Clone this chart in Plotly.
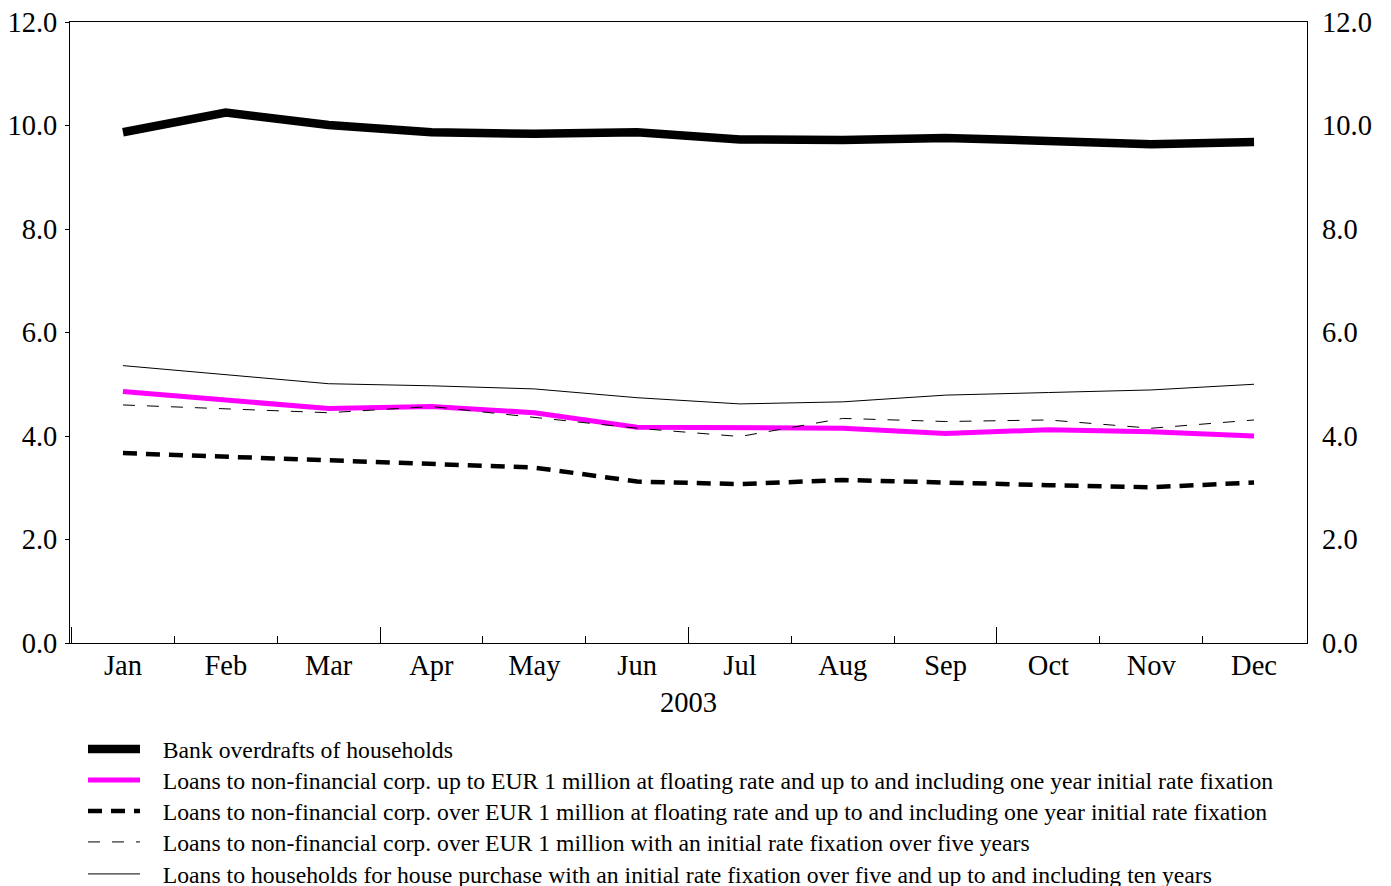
import plotly.graph_objects as go

months = ["Jan", "Feb", "Mar", "Apr", "May", "Jun", "Jul", "Aug", "Sep", "Oct", "Nov", "Dec"]
month_idx = list(range(len(months)))
year_label = "2003"

overdrafts = [9.87, 10.25, 10.01, 9.87, 9.84, 9.87, 9.73, 9.72, 9.76, 9.72, 9.64, 9.68]
nfc_small_float = [4.86, 4.70, 4.53, 4.57, 4.45, 4.17, 4.15, 4.15, 4.05, 4.12, 4.08, 4.00]
nfc_large_float = [3.67, 3.60, 3.54, 3.47, 3.39, 3.12, 3.07, 3.15, 3.09, 3.05, 3.01, 3.10]
nfc_large_5y = [4.60, 4.53, 4.45, 4.57, 4.36, 4.15, 3.99, 4.34, 4.28, 4.31, 4.15, 4.31]
house_5_10y = [5.36, 5.18, 5.01, 4.97, 4.91, 4.74, 4.62, 4.66, 4.79, 4.84, 4.89, 5.00]

names = [
    "Bank overdrafts of households",
    "Loans to non-financial corp. up to EUR 1 million at floating rate and up to and including one year initial rate fixation",
    "Loans to non-financial corp. over EUR 1 million at floating rate and up to and including one year initial rate fixation",
    "Loans to non-financial corp. over EUR 1 million with an initial rate fixation over five years",
    "Loans to households for house purchase with an initial rate fixation over five and up to and including ten years",
]

y_ticks = [0, 2, 4, 6, 8, 10, 12]
minor_boundaries = [0.5, 1.5, 2.5, 3.5, 4.5, 5.5, 6.5, 7.5, 8.5, 9.5, 10.5]
major_boundaries = [-0.5, 2.5, 5.5, 8.5]

FONT = "Liberation Serif"
XR = [-0.515, 11.515]
PAD = "\u00a0\u00a0\u00a0"

# legend rows (paper y, relative to plot area), one legend per series
legend_rows = [-0.1707, -0.2206, -0.2705, -0.3205, -0.3720]
legend_ids = ["legend", "legend2", "legend3", "legend4", "legend5"]

fig = go.Figure()
series = [
    (overdrafts, dict(color="black", width=8.5)),
    (nfc_small_float, dict(color="#ff00ff", width=5)),
    (nfc_large_float, dict(color="black", width=4.5, dash="14px,9px")),
    (nfc_large_5y, dict(color="black", width=1, dash="12px,12px")),
    (house_5_10y, dict(color="black", width=1)),
]
for (vals, line), name, lid in zip(series, names, legend_ids):
    fig.add_trace(go.Scatter(x=month_idx, y=vals, mode="lines", name=PAD + name, line=line,
                             legend=lid, hoverinfo="skip"))

# invisible helper trace so overlay axes (labels, right axis) are drawn
fig.add_trace(go.Scatter(x=month_idx, y=overdrafts, xaxis="x2", yaxis="y2", mode="lines",
                         line=dict(width=0), opacity=0, showlegend=False, hoverinfo="skip"))

legend_style = dict(
    x=0.0105, xanchor="left", yanchor="middle",
    font=dict(family=FONT, size=23.7, color="black"),
    itemwidth=52, tracegroupgap=0, bgcolor="rgba(0,0,0,0)",
)
legends = {lid: dict(legend_style, y=ly) for lid, ly in zip(legend_ids, legend_rows)}

fig.update_layout(
    width=1391, height=886,
    margin=dict(l=62, r=92, t=14, b=251, autoexpand=False),
    paper_bgcolor="white", plot_bgcolor="white",
    font=dict(family=FONT, size=28.5, color="black"),
    showlegend=True,
    **legends,
    xaxis=dict(
        range=XR, showgrid=False, zeroline=False, automargin=False,
        showline=True, linecolor="black", linewidth=1, mirror=True,
        tickmode="array", tickvals=major_boundaries, ticks="inside", ticklen=16,
        tickcolor="black", tickwidth=1, showticklabels=False,
        minor=dict(tickmode="array", tickvals=minor_boundaries, ticks="inside",
                   ticklen=7, tickcolor="black", tickwidth=1),
    ),
    xaxis2=dict(
        range=XR, overlaying="x", anchor="y", side="bottom", automargin=False,
        showgrid=False, zeroline=False, showline=False,
        tickmode="array", tickvals=month_idx, ticktext=months, ticks="",
        ticklabelstandoff=2, ticklabeloverflow="allow",
        tickfont=dict(family=FONT, size=28.5),
        title=dict(text=year_label, font=dict(family=FONT, size=28.5), standoff=12),
    ),
    yaxis=dict(
        range=[0, 12], tickvals=y_ticks, tickformat=".1f", showgrid=False, zeroline=False,
        automargin=False, ticklabeloverflow="allow",
        showline=True, linecolor="black", linewidth=1, mirror=True,
        ticks="outside", ticklen=4, tickcolor="black", ticklabelstandoff=2,
        tickfont=dict(family=FONT, size=28.5),
    ),
    yaxis2=dict(
        range=[0, 12], tickvals=y_ticks, tickformat=".1f", overlaying="y", side="right",
        anchor="x", showgrid=False, zeroline=False, showline=False, ticks="",
        automargin=False, ticklabelstandoff=14, ticklabeloverflow="allow",
        tickfont=dict(family=FONT, size=28.5),
    ),
)

fig.write_html("out.html")
